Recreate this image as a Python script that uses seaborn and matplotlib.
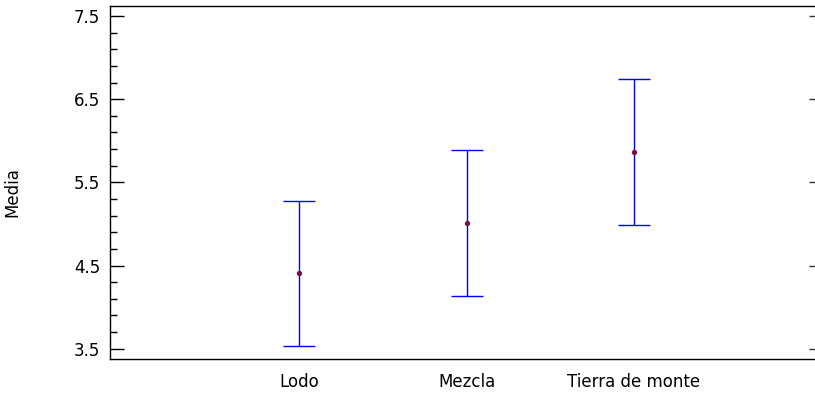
import numpy as np
import pandas as pd
import matplotlib
matplotlib.use('Agg')
import matplotlib.pyplot as plt
from matplotlib.ticker import MultipleLocator
import seaborn as sns

# Means and interval limits
groups = ["Lodo", "Mezcla", "Tierra de monte"]
means = [4.406, 5.007, 5.868]
lower = [3.536, 4.137, 4.987]
upper = [5.275, 5.888, 6.738]
yticks = [3.5, 4.5, 5.5, 6.5, 7.5]

df = pd.DataFrame({"group": groups, "mean": means, "lower": lower, "upper": upper})

sns.set_style("white")
plt.rcParams['font.family'] = ['DejaVu Sans']
plt.rcParams['text.color'] = 'black'
plt.rcParams['xtick.color'] = 'black'
plt.rcParams['ytick.color'] = 'black'
plt.rcParams['axes.labelcolor'] = 'black'

fig = plt.figure(figsize=(8.15, 3.94), dpi=100)
ax = fig.add_axes([110 / 815, 35 / 394, 705 / 815, 353 / 394])

# Interval bars
pos = np.arange(len(df))
ax.errorbar(pos, df["mean"],
            yerr=[df["mean"] - df["lower"], df["upper"] - df["mean"]],
            fmt="none", ecolor="#0000ff", elinewidth=1.0, capsize=11.5,
            capthick=1.0, zorder=2)

# Means
sns.pointplot(data=df, x="group", y="mean", errorbar=None, linestyle="none",
              marker="o", markersize=1.8, color="#7a1040", ax=ax, zorder=3)

ax.set_xlim(-1.128, 3.08)
ax.set_ylim(3.376, 7.62)
ax.set_yticks(yticks)
ax.set_yticklabels([f"{t:.1f}" for t in yticks])
ax.yaxis.set_minor_locator(MultipleLocator(0.2, offset=0.1))

ax.tick_params(axis="y", which="major", direction="in", length=10, width=1,
               labelsize=12, pad=7, left=True, right=False)
ax.tick_params(axis="y", which="minor", direction="in", length=5, width=1,
               left=True, right=False)
ax.tick_params(axis="x", length=0, labelsize=12, pad=10)

for side in ["left", "top", "bottom"]:
    ax.spines[side].set_color("black")
    ax.spines[side].set_linewidth(1.0)
ax.spines["right"].set_visible(False)

# short inward ticks on the right edge
ax2 = ax.twinx()
ax2.set_ylim(ax.get_ylim())
ax2.set_yticks(yticks)
ax2.set_yticklabels([])
ax2.tick_params(axis="y", direction="in", length=4, width=1, right=True,
                left=False, color="#333333")
for s in ax2.spines.values():
    s.set_visible(False)

ax.set_xlabel("")
ax.set_ylabel("Media", fontsize=12)
ax.yaxis.set_label_coords(-0.126, 0.473)

fig.savefig("out.png", dpi=100)
